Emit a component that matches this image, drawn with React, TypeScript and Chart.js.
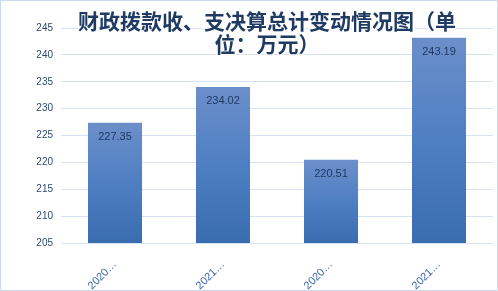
import React, { useEffect, useRef } from "react";
import { Chart, registerables } from "chart.js";

Chart.register(...registerables);

const categories = ["2020…", "2021…", "2020…", "2021…"];
const values = [227.35, 234.02, 220.51, 243.19];
const yMin = 205;
const yMax = 245;
const yStep = 5;
const titleLines = ["财政拨款收、支决算总计变动情况图（单", "位：万元）"];

const W = 498;
const H = 291;

export default function App() {
  const ref = useRef<HTMLCanvasElement | null>(null);
  useEffect(() => {
    const canvas = ref.current!;
    const overlay = {
      id: "overlay",
      afterDatasetsDraw(chart: any) {
        const ctx = chart.ctx;
        const meta = chart.getDatasetMeta(0);
        ctx.save();
        ctx.font = "11px 'Liberation Sans', Arial, sans-serif";
        ctx.fillStyle = "#1F3864";
        ctx.textAlign = "center";
        ctx.textBaseline = "middle";
        meta.data.forEach((bar: any, i: number) => {
          ctx.fillText(values[i].toFixed(2), bar.x, bar.y + 14);
        });
        ctx.restore();
      },
      afterDraw(chart: any) {
        const ctx = chart.ctx;
        ctx.save();
        ctx.font = "bold 21px 'Noto Sans CJK SC', sans-serif";
        ctx.textAlign = "center";
        ctx.textBaseline = "middle";
        ctx.lineJoin = "round";
        ctx.lineWidth = 3;
        ctx.strokeStyle = "rgba(255,255,255,0.9)";
        ctx.fillStyle = "#1F3B63";
        const cx = 267;
        titleLines.forEach((t, i) => {
          const y = 21 + i * 23;
          ctx.strokeText(t, cx, y);
          ctx.fillText(t, cx, y);
        });
        ctx.strokeStyle = "#C9DBEF";
        ctx.lineWidth = 1;
        ctx.strokeRect(0.5, 0.5, W - 1, H - 1);
        ctx.restore();
      },
    };
    const chart = new Chart(canvas, {
      type: "bar",
      data: {
        labels: categories,
        datasets: [
          {
            data: values,
            backgroundColor: (c: any) => {
              const ch = c.chart;
              const area = ch.chartArea;
              if (!area || c.parsed == null) return "#4F7FC0";
              const ys = ch.scales.y;
              const top = ys.getPixelForValue(c.parsed.y);
              const bottom = ys.getPixelForValue(yMin);
              const g = ch.ctx.createLinearGradient(0, top, 0, bottom);
              g.addColorStop(0, "#6C8FCA");
              g.addColorStop(0.5, "#4E7FC2");
              g.addColorStop(1, "#3A6CB0");
              return g;
            },
            borderWidth: 0,
            categoryPercentage: 1,
            barPercentage: 0.5,
          },
        ],
      },
      options: {
        responsive: false,
        animation: false,
        layout: { padding: { top: 28, right: 5, left: 0, bottom: 0 } },
        plugins: {
          legend: { display: false },
          title: { display: false },
          tooltip: { enabled: false },
        },
        scales: {
          x: {
            grid: { display: false },
            border: { display: false },
            ticks: {
              minRotation: 45,
              maxRotation: 45,
              color: "#3A64A8",
              font: { family: "'Liberation Sans', Arial, sans-serif", size: 11 },
              padding: 7,
            },
            afterFit: (s: any) => {
              s.height = 48;
            },
          },
          y: {
            min: yMin,
            max: yMax,
            ticks: {
              stepSize: yStep,
              color: "#2E4A72",
              font: { family: "'Liberation Sans', Arial, sans-serif", size: 10 },
              padding: 8,
            },
            grid: { color: "#D6E3F2", drawTicks: false, lineWidth: 1 },
            border: { display: false },
            afterFit: (s: any) => {
              s.width = 61;
            },
          },
        },
      },
      plugins: [overlay],
    });
    return () => chart.destroy();
  }, []);
  return (
    <div style={{ position: "absolute", left: 0, top: 0, width: W, height: H, background: "#fff" }}>
      <canvas ref={ref} width={W} height={H} style={{ display: "block" }} />
    </div>
  );
}
